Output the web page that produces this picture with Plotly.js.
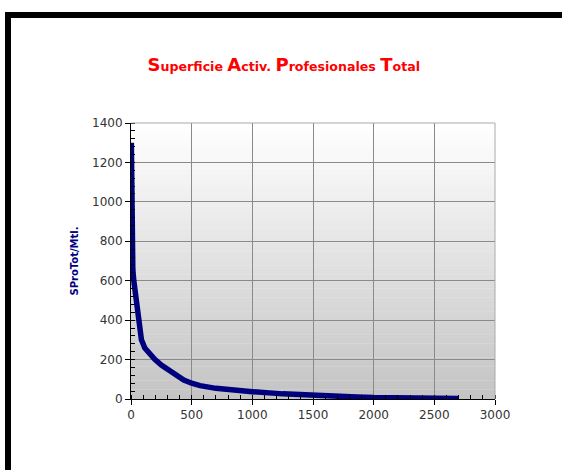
<!DOCTYPE html>
<html>
<head>
<meta charset="utf-8">
<script src="https://cdn.plot.ly/plotly-3.0.1.min.js"></script>
<style>
  html, body { margin: 0; padding: 0; background: #ffffff; }
  #frame { position: absolute; left: 5px; top: 12px; width: 620px; height: 520px; border-top: 6px solid #000; border-left: 6px solid #000; background: #fff; }
  #chart { position: absolute; left: 0; top: 0; width: 562px; height: 470px; }
</style>
</head>
<body>
<div id="frame"></div>
<div id="chart"></div>
<script>
// Data (rank vs. value)
const rank  = [3, 4, 6, 10, 15, 23, 45, 64, 86, 114, 150, 196, 250, 311, 370, 435, 500, 569, 700, 816, 1000, 1250, 1500, 1722, 1860, 2000, 2250, 2500, 2700];
const value = [1300, 1000, 800, 700, 655, 600, 486, 400, 300, 258, 228, 201, 172, 147, 120, 96, 80, 68, 54, 46, 37, 26, 17, 13, 10, 7, 5, 3, 2];

const titleText = '<b><span style="font-size:18px">S</span>uperficie <span style="font-size:18px">A</span>ctiv. <span style="font-size:18px">P</span>rofesionales <span style="font-size:18px">T</span>otal</b>';
const yTitle = '<b>SProTot/Mtl.</b>';

// background gradient bands (white -> gray)
const bands = [];
const nb = 60;
for (let i = 0; i < nb; i++) {
  const t = (i + 0.5) / nb;
  const c = Math.round(255 - t * (255 - 195));
  bands.push({
    type: 'rect', xref: 'x domain', yref: 'y domain',
    x0: 0, x1: 1, y0: 1 - (i + 1) / nb, y1: 1 - i / nb + 0.001,
    fillcolor: `rgb(${c},${c},${c})`, line: {width: 0}, layer: 'below'
  });
}

const trace = {
  x: rank, y: value, type: 'scatter', mode: 'lines',
  line: {color: '#00007f', width: 5.5},
  hoverinfo: 'skip'
};

const layout = {
  width: 562, height: 470,
  margin: {l: 130.5, r: 67, t: 123, b: 71},
  paper_bgcolor: 'rgba(0,0,0,0)',
  plot_bgcolor: 'rgba(0,0,0,0)',
  showlegend: false,
  font: {family: '"DejaVu Sans", sans-serif', size: 12, color: '#333'},
  title: {
    text: titleText,
    font: {family: '"DejaVu Sans", sans-serif', size: 12.6, color: '#ff0000'},
    x: 0.505, xanchor: 'center', y: 0.858, yanchor: 'middle'
  },
  xaxis: {
    range: [0, 3000], dtick: 500, tick0: 0,
    showgrid: true, gridcolor: '#8a8a8a', gridwidth: 1,
    zeroline: false, showline: true, linecolor: '#000', linewidth: 1,
    ticks: 'outside', ticklen: 5, tickcolor: '#000',
    minor: {dtick: 100, ticks: 'inside', ticklen: 4, tickcolor: '#000', showgrid: false},
    tickfont: {size: 12, color: '#333'}, fixedrange: true
  },
  yaxis: {
    range: [0, 1400], dtick: 200, tick0: 0,
    showgrid: true, gridcolor: '#8a8a8a', gridwidth: 1,
    zeroline: false, showline: true, linecolor: '#000', linewidth: 1,
    ticks: 'outside', ticklen: 5, tickcolor: '#000',
    minor: {dtick: 40, ticks: 'inside', ticklen: 4, tickcolor: '#000', showgrid: false},
    tickfont: {size: 12, color: '#333'},
    title: {text: yTitle, font: {size: 10, color: '#00007f'}, standoff: 11},
    fixedrange: true
  },
  shapes: bands.concat([
    {type: 'line', xref: 'x domain', yref: 'y domain', x0: 0, x1: 1, y0: 1, y1: 1, line: {color: '#aaaaaa', width: 1}},
    {type: 'line', xref: 'x domain', yref: 'y domain', x0: 1, x1: 1, y0: 0, y1: 1, line: {color: '#aaaaaa', width: 1}}
  ])
};

Plotly.newPlot('chart', [trace], layout, {displayModeBar: false, staticPlot: true});
</script>
</body>
</html>
